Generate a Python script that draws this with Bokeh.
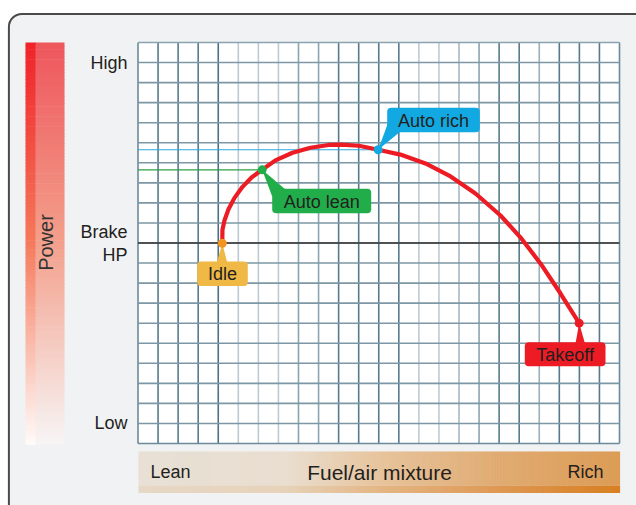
import numpy as np
from bokeh.plotting import figure
from bokeh.models import Range1d
from bokeh.embed import file_html
from bokeh.resources import INLINE
from bokeh.core.properties import value

# ---------------- data (grid units: x = mixture 0..24, y = power 0..20) ----------------
curve_x = [4.20, 4.21, 4.31, 4.51, 4.81, 5.21, 5.66, 6.19, 6.85, 7.70, 8.60, 9.50, 10.11,
           11.01, 11.97, 13.08, 14.33, 15.58, 16.82, 18.07, 19.07, 20.06, 21.06, 21.99]
curve_y = [9.99, 10.66, 11.12, 11.68, 12.25, 12.80, 13.27, 13.65, 14.12, 14.50, 14.75, 14.89, 14.91,
           14.85, 14.65, 14.41, 13.97, 13.32, 12.47, 11.37, 10.27, 8.98, 7.48, 6.00]
point_names = ["Idle", "Auto lean", "Auto rich", "Takeoff"]
point_x = [4.20, 6.19, 11.97, 21.99]
point_y = [9.99, 13.65, 14.65, 6.00]
power_labels = ["High", "Brake\nHP", "Low"]
power_levels = [19, 10, 1]
brake_hp_level = 10
mixture_labels = ["Lean", "Fuel/air mixture", "Rich"]
axis_title = "Power"
n_cols = 24
n_rows = 20

# ---------------- page geometry helpers ----------------
W, H = 636, 505
X0_PX, X1_PX = 137.5, 619.0   # grid left/right on page
Y0_PX, Y1_PX = 443.0, 42.0    # grid bottom/top on page
sx = (X1_PX - X0_PX) / n_cols
sy = (Y0_PX - Y1_PX) / n_rows

def px2x(px):
    return (px - X0_PX) / sx

def py2y(py):
    return (Y0_PX - py) / sy

p = figure(width=W, height=H, output_backend="svg", toolbar_location=None,
           x_axis_location=None, y_axis_location=None,
           x_range=Range1d(px2x(0), px2x(W)), y_range=Range1d(py2y(H), py2y(0)),
           min_border=0, outline_line_color=None, background_fill_color="white",
           border_fill_color="white")
p.grid.visible = False

FONT = value("Liberation Sans")
TXT = "#231f20"

# ---------------- outer rounded frame ----------------
p.quad(left=[px2x(8.4)], right=[px2x(660)], top=[py2y(13.5)], bottom=[py2y(520)],
       fill_color="#f0f2f4", line_color="#4a4a4a", line_width=2, border_radius=13)

# ---------------- left power gradient bar ----------------
def lerp_col(stops, t):
    for i in range(len(stops) - 1):
        t0, c0 = stops[i]
        t1, c1 = stops[i + 1]
        if t0 <= t <= t1:
            f = (t - t0) / (t1 - t0) if t1 > t0 else 0
            c = [int(round(c0[k] + (c1[k] - c0[k]) * f)) for k in range(3)]
            return "#%02x%02x%02x" % tuple(c)
    return "#%02x%02x%02x" % tuple(stops[-1][1])

left_strip = [(0.0, (240, 34, 40)), (0.5, (245, 122, 92)), (1.0, (255, 251, 249))]
right_strip = [(0.0, (238, 86, 92)), (0.5, (243, 160, 140)), (1.0, (247, 245, 245))]
nb = 120
top_px, bot_px = 42.0, 444.0
edges = np.linspace(top_px, bot_px, nb + 1)
for strip, (l, r) in ((left_strip, (25, 35.5)), (right_strip, (35, 64))):
    cols = [lerp_col(strip, (i + 0.5) / nb) for i in range(nb)]
    p.quad(left=[px2x(l)] * nb, right=[px2x(r)] * nb,
           top=[py2y(e) for e in edges[:-1]], bottom=[py2y(e + 0.6) for e in edges[1:]],
           fill_color=cols, line_color=None)

p.text(x=[px2x(45)], y=[py2y(242)], text=[axis_title], angle=np.pi / 2,
       text_align="center", text_baseline="middle", text_font=FONT,
       text_font_size="20px", text_color="#333333")

# ---------------- bottom mixture gradient bar ----------------
top_band = [(138, (232, 224, 213)), (285, (233, 222, 208)), (380, (231, 196, 156)),
            (500, (224, 170, 112)), (619, (220, 156, 86))]
low_band = [(138, (230, 216, 198)), (285, (231, 210, 185)), (380, (228, 182, 132)),
            (500, (222, 150, 80)), (619, (216, 128, 34))]
nbx = 160
xe = np.linspace(138, 619, nbx + 1)
for band, (t, b) in ((top_band, (451, 485)), (low_band, (485, 492.5))):
    cols = [lerp_col(band, (xe[i] + xe[i + 1]) / 2) for i in range(nbx)]
    p.quad(left=[px2x(v) for v in xe[:-1]], right=[px2x(v + 0.6) for v in xe[1:]],
           top=[py2y(t)] * nbx, bottom=[py2y(b)] * nbx, fill_color=cols, line_color=None)

p.text(x=[px2x(150), px2x(379), px2x(603)], y=[py2y(471.5)] * 3, text=mixture_labels,
       text_align=["left", "center", "right"], text_baseline="middle", text_font=FONT,
       text_font_size=["18px", "21px", "18px"], text_color=TXT)

# ---------------- grid ----------------
p.quad(left=[0], right=[n_cols], top=[n_rows], bottom=[0], fill_color="white", line_color=None)
dark, med, light = "#557a8e", "#8ba4b1", "#bccbd3"
v_cols = ["#6d8a9a", dark, dark, dark, "#4b7186", light, light, light, med, med, dark, dark,
          dark, dark, light, light, "#a6b9c3", med, dark, dark, "#9ab0bb", dark, dark, dark, "#6d8a9a"]
p.segment(x0=list(range(n_cols + 1)), x1=list(range(n_cols + 1)),
          y0=[0] * (n_cols + 1), y1=[n_rows] * (n_cols + 1), line_color=v_cols, line_width=1.6)
h_cols = ["#6d8a9a"] + ["#7d97a5"] * (n_rows - 1) + ["#8aa3b0"]
p.segment(x0=[0] * (n_rows + 1), x1=[n_cols] * (n_rows + 1),
          y0=list(range(n_rows + 1)), y1=list(range(n_rows + 1)), line_color=h_cols, line_width=1.6)

# Brake HP reference line
p.segment(x0=[0], x1=[n_cols], y0=[brake_hp_level], y1=[brake_hp_level], line_color="#333333",
          line_width=1.3)
# Auto lean / Auto rich reference lines
p.segment(x0=[0, 0], x1=[point_x[1], point_x[2]], y0=[point_y[1], point_y[2]],
          y1=[point_y[1], point_y[2]], line_color=["#2ea043", "#2aa8e0"], line_width=1.2)

# power tick labels
p.text(x=[px2x(127)] * len(power_levels), y=power_levels, text=power_labels,
       text_align="right", text_baseline="middle", text_font=FONT, text_font_size="18px",
       text_color=TXT, text_line_height=1.15)

# ---------------- curve ----------------
p.line(curve_x, curve_y, line_color="#ed1c24", line_width=4.2, line_join="round", line_cap="round")

# ---------------- callouts ----------------
box_cols = ["#f0b844", "#22ad4b", "#12a9e2", "#ed1c24"]
pt_cols = ["#f39620", "#22ad4b", "#12a9e2", "#ed1c24"]
# boxes (page px): left, right, top, bottom
boxes = [(196.7, 247.3, 261, 285.5), (271.7, 370.7, 188.3, 212.7),
         (386.7, 479.3, 107.3, 131.7), (524.3, 605, 341.7, 365.7)]
# pointer bases (page px) for each callout
bases = [((216, 263), (227, 263)), ((271.7, 196), (285, 189)),
         ((387.3, 123), (400, 131)), ((575, 343), (584.5, 343))]
xs, ys = [], []
for i in range(4):
    (ax, ay), (bx, by) = bases[i]
    xs.append([point_x[i], px2x(ax), px2x(bx)])
    ys.append([point_y[i], py2y(ay), py2y(by)])
p.patches(xs, ys, fill_color=box_cols, line_color=None)
p.quad(left=[px2x(b[0]) for b in boxes], right=[px2x(b[1]) for b in boxes],
       top=[py2y(b[2]) for b in boxes], bottom=[py2y(b[3]) for b in boxes],
       fill_color=box_cols, line_color=None, border_radius=4)
p.text(x=[px2x((b[0] + b[1]) / 2) for b in boxes], y=[py2y((b[2] + b[3]) / 2 + 0.5) for b in boxes],
       text=point_names, text_align="center", text_baseline="middle", text_font=FONT,
       text_font_size="18px", text_color=TXT)

p.scatter(point_x, point_y, size=9, fill_color=pt_cols, line_color=None)

open("out.html", "w").write(file_html(p, INLINE))
